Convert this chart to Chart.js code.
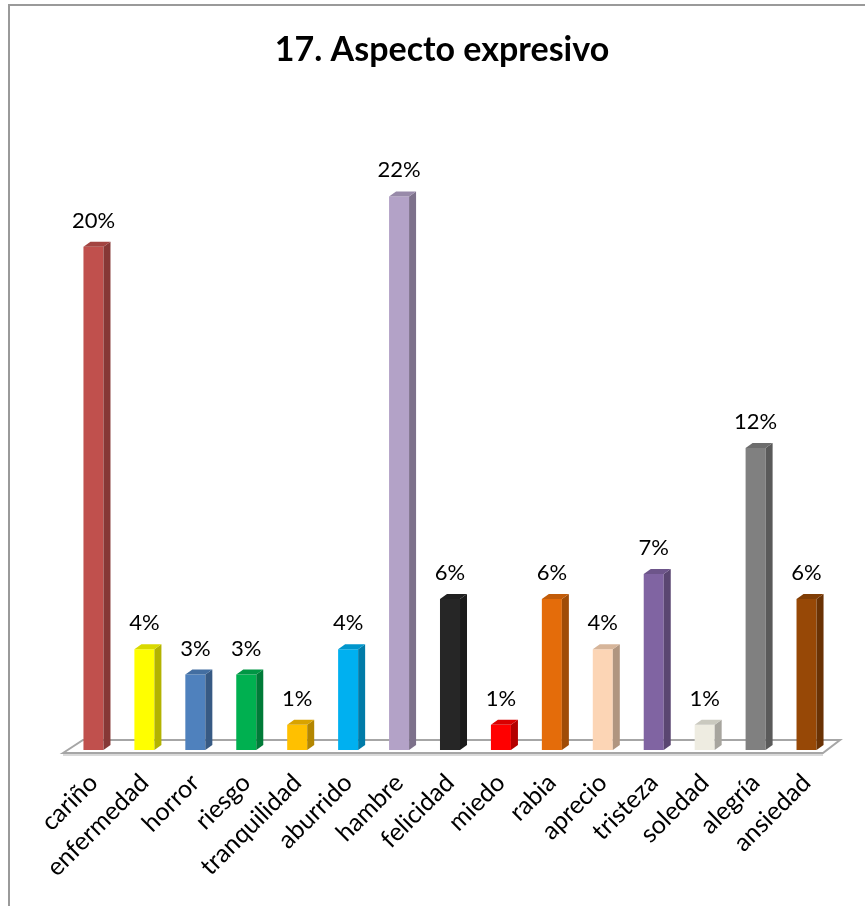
<!DOCTYPE html>
<html>
<head>
<meta charset="utf-8">
<script src="https://cdn.jsdelivr.net/npm/chart.js@4"></script>
<style>
  html, body { margin: 0; padding: 0; background: #fff; }
  #wrap { width: 865px; height: 906px; }
</style>
</head>
<body>
<div id="wrap"><canvas id="chart" width="865" height="906"></canvas></div>
<script>
const chartTitle = '17. Aspecto expresivo';
const categories = ['cariño', 'enfermedad', 'horror', 'riesgo', 'tranquilidad', 'aburrido', 'hambre',
    'felicidad', 'miedo', 'rabia', 'aprecio', 'tristeza', 'soledad', 'alegría', 'ansiedad'];
const percents = [20, 4, 3, 3, 1, 4, 22, 6, 1, 6, 4, 7, 1, 12, 6];
const frontColors = ['#C0504D', '#FFFF00', '#4F81BD', '#00B050', '#FFC000', '#00B0F0', '#B3A2C7',
    '#262626', '#FF0000', '#E46C0A', '#FCD5B5', '#8064A2', '#EEECE1', '#808080', '#974806'];

const FONT = 'Lato, "Open Sans", "Liberation Sans", sans-serif';

function shade(hex, f) {
    let r = parseInt(hex.slice(1, 3), 16), g = parseInt(hex.slice(3, 5), 16), b = parseInt(hex.slice(5, 7), 16);
    return 'rgb(' + Math.round(r * f) + ',' + Math.round(g * f) + ',' + Math.round(b * f) + ')';
}

// frame lines (top + left only) and the title
const framePlugin = {
    id: 'frame',
    beforeDraw(chart) {
        const ctx = chart.ctx;
        ctx.save();
        ctx.fillStyle = '#9a9a9a';
        ctx.fillRect(8, 4, 857, 2);
        ctx.fillRect(8, 4, 2, 902);
        ctx.fillStyle = '#000';
        ctx.font = 'bold 34px ' + FONT;
        ctx.textAlign = 'center';
        ctx.textBaseline = 'middle';
        ctx.fillText(chartTitle, 442, 50);
        ctx.restore();
    }
};

// 3d floor under the bars
const floorPlugin = {
    id: 'floor',
    beforeDatasetsDraw(chart) {
        const a = chart.chartArea, ctx = chart.ctx;
        const fy = a.bottom + 3, by = a.bottom - 10;
        ctx.save();
        ctx.beginPath();
        ctx.moveTo(a.left - 5, fy);
        ctx.lineTo(a.left + 15, by);
        ctx.lineTo(a.right + 8, by);
        ctx.lineTo(a.right - 9, fy);
        ctx.closePath();
        ctx.fillStyle = '#fff';
        ctx.fill();
        ctx.lineWidth = 2;
        ctx.strokeStyle = '#a6a6a6';
        ctx.stroke();
        ctx.fillStyle = '#d9d9d9';
        ctx.fillRect(a.left - 5, fy + 1, a.right - a.left - 4, 2);
        ctx.restore();
    }
};

// side + top faces and value labels
const depthPlugin = {
    id: 'depth',
    afterDatasetsDraw(chart) {
        const ctx = chart.ctx;
        const meta = chart.getDatasetMeta(0);
        const dx = 7, dy = 5;
        ctx.save();
        meta.data.forEach((bar, i) => {
            const c = frontColors[i];
            const l = bar.x - bar.width / 2, r = bar.x + bar.width / 2;
            const t = bar.y, b = bar.base;
            ctx.fillStyle = shade(c, 0.7);
            ctx.beginPath();
            ctx.moveTo(r, t);
            ctx.lineTo(r + dx, t - dy);
            ctx.lineTo(r + dx, b - dy);
            ctx.lineTo(r, b);
            ctx.closePath();
            ctx.fill();
            ctx.fillStyle = shade(c, 0.85);
            ctx.beginPath();
            ctx.moveTo(l, t);
            ctx.lineTo(l + dx, t - dy);
            ctx.lineTo(r + dx, t - dy);
            ctx.lineTo(r, t);
            ctx.closePath();
            ctx.fill();

            ctx.fillStyle = '#000';
            ctx.font = '22px ' + FONT;
            ctx.textAlign = 'center';
            ctx.textBaseline = 'alphabetic';
            ctx.fillText(percents[i] + '%', bar.x, t - 19);
        });
        ctx.restore();
    }
};

new Chart(document.getElementById('chart'), {
    type: 'bar',
    data: {
        labels: categories,
        datasets: [{
            data: percents,
            backgroundColor: frontColors,
            barPercentage: 0.393,
            categoryPercentage: 1
        }]
    },
    options: {
        responsive: false,
        animation: false,
        layout: { padding: { left: 68, right: 33, top: 121, bottom: 0 } },
        plugins: {
            legend: { display: false },
            tooltip: { enabled: false },
            title: { display: false }
        },
        scales: {
            y: { display: false, min: 0, max: 25 },
            x: {
                grid: { display: false, drawTicks: false },
                border: { display: false },
                ticks: {
                    autoSkip: false,
                    minRotation: 45,
                    maxRotation: 45,
                    padding: 18,
                    color: '#000',
                    font: { family: FONT, size: 25 }
                },
                afterFit(scale) { scale.height = 156; }
            }
        }
    },
    plugins: [framePlugin, floorPlugin, depthPlugin]
});
</script>
</body>
</html>
